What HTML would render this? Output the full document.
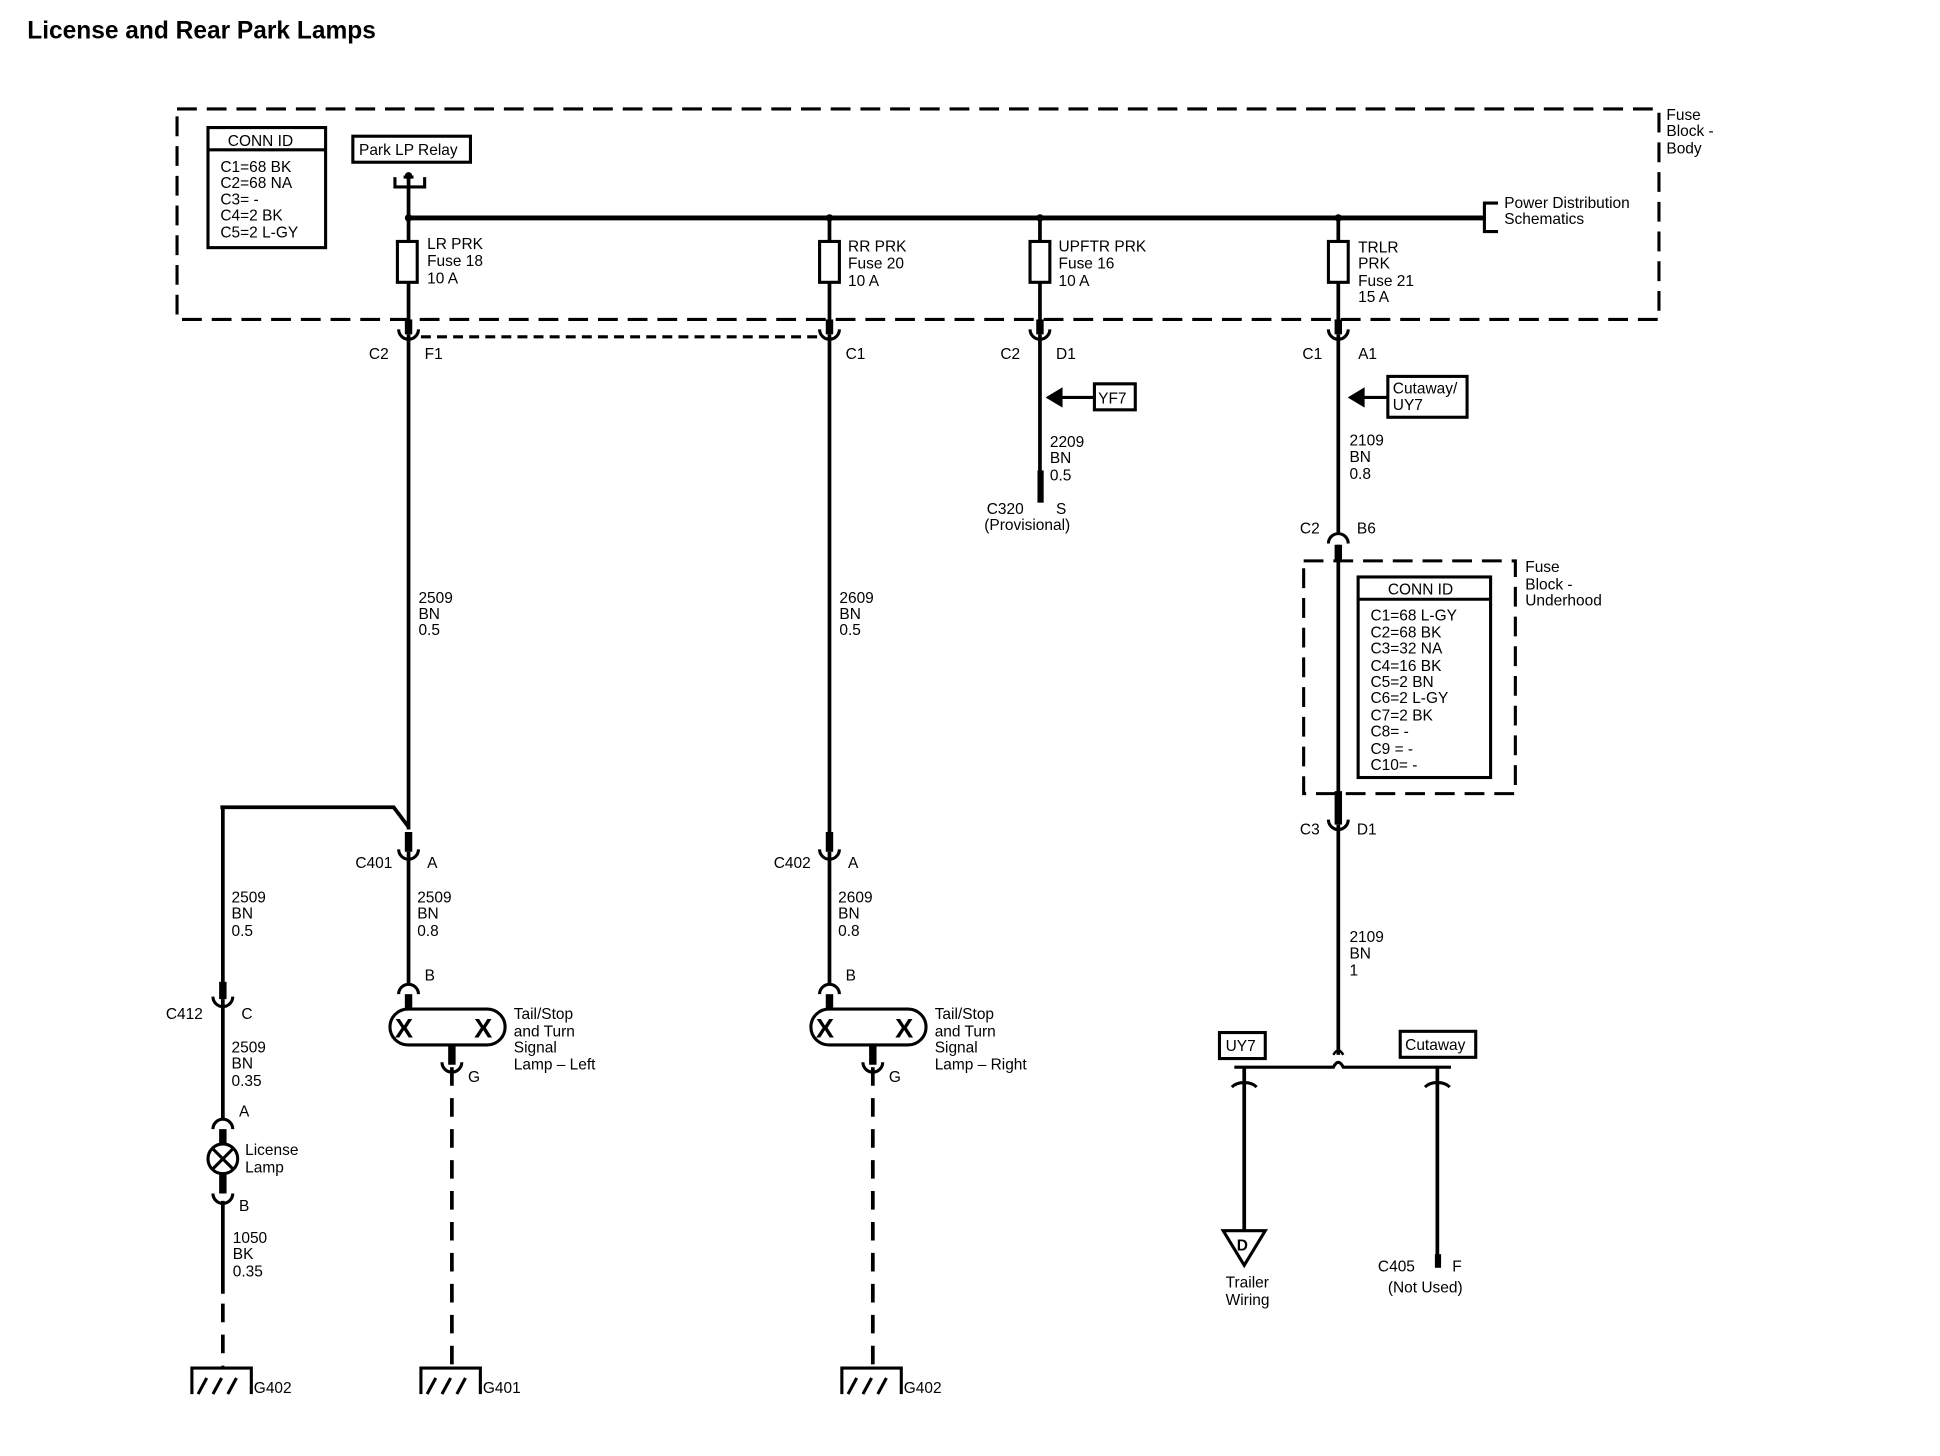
<!DOCTYPE html>
<html><head><meta charset="utf-8"><style>
html,body{margin:0;padding:0;background:#fff;}
svg{display:block}
text{font-family:"Liberation Sans",sans-serif;font-size:12.5px;fill:#000;}
.b{font-weight:bold}
</style></head><body>
<svg width="1940" height="1456" viewBox="0 0 1567 1176" xmlns="http://www.w3.org/2000/svg">
<text x="22" y="31" class="b" style="font-size:19.8px">License and Rear Park Lamps</text>

<g fill="none" stroke="#000" stroke-width="2.5">
<rect x="143" y="88" width="1197" height="170" stroke-dasharray="16,8"/>
<rect x="168" y="103" width="95" height="97"/>
<line x1="168" y1="121" x2="263" y2="121"/>
<rect x="285" y="110" width="95" height="21"/>
<path d="M319 143 V151 H343 V143"/>
<path d="M326 143 H334"/>
<line x1="330" y1="176" x2="1200" y2="176" stroke-width="4"/>
<line x1="330" y1="142" x2="330" y2="258" stroke-width="3"/>
<path d="M1210 164 H1199 V187 H1210"/>
<line x1="670" y1="176" x2="670" y2="258" stroke-width="3"/>
<line x1="840" y1="176" x2="840" y2="258" stroke-width="3"/>
<line x1="1081" y1="176" x2="1081" y2="258" stroke-width="3"/>
<rect x="321" y="195" width="16" height="33" fill="#fff"/>
<rect x="662" y="195" width="16" height="33" fill="#fff"/>
<rect x="832" y="195" width="16" height="33" fill="#fff"/>
<rect x="1073" y="195" width="16" height="33" fill="#fff"/>
<line x1="340" y1="272" x2="662" y2="272" stroke-dasharray="8,5"/>
</g>
<g fill="#000"><circle cx="330" cy="176" r="3"/><circle cx="670" cy="176" r="3"/><circle cx="840" cy="176" r="3"/><circle cx="1081" cy="176" r="3"/><circle cx="330" cy="142" r="3"/></g>

<g fill="none" stroke="#000" stroke-width="2.5">
<path d="M322 266 A8 8 0 0 0 338 266"/><path d="M662 266 A8 8 0 0 0 678 266"/>
<path d="M832 266 A8 8 0 0 0 848 266"/><path d="M1073 266 A8 8 0 0 0 1089 266"/>
<path d="M1073 439 A8 8 0 0 1 1089 439"/>
<path d="M1073 662 A8 8 0 0 0 1089 662"/>
<path d="M322 686 A8 8 0 0 0 338 686"/><path d="M662 686 A8 8 0 0 0 678 686"/>
<path d="M322 803 A8 8 0 0 1 338 803"/><path d="M662 803 A8 8 0 0 1 678 803"/>
<path d="M172 805 A8 8 0 0 0 188 805"/>
<path d="M172 912 A8 8 0 0 1 188 912"/>
<path d="M172 964 A8 8 0 0 0 188 964"/>
<path d="M357 858 A8 8 0 0 0 373 858"/><path d="M697 858 A8 8 0 0 0 713 858"/>
</g>
<g fill="#000">
<rect x="327" y="258" width="6" height="12"/><rect x="667" y="258" width="6" height="12"/>
<rect x="837" y="258" width="6" height="12"/><rect x="1078" y="258" width="6" height="12"/>
<rect x="1078" y="639" width="6" height="27"/>
<rect x="1078" y="440" width="6" height="14"/>
<rect x="327" y="672" width="6" height="16"/><rect x="667" y="672" width="6" height="16"/>
<rect x="327" y="803" width="6" height="12"/><rect x="667" y="803" width="6" height="12"/>
<rect x="177" y="793" width="6" height="14"/>
<rect x="177" y="912" width="6" height="12"/><rect x="177" y="948" width="6" height="16"/>
<rect x="362" y="845" width="6" height="15"/><rect x="702" y="845" width="6" height="15"/>
<rect x="838" y="380" width="5" height="26"/>
<rect x="1159" y="1013" width="5" height="11"/>
</g>

<g fill="none" stroke="#000" stroke-width="3">
<line x1="330" y1="270" x2="330" y2="670"/>
<path d="M178 652 H318 L330 668"/>
<line x1="180" y1="652" x2="180" y2="795"/>
<line x1="330" y1="688" x2="330" y2="795"/>
<line x1="180" y1="807" x2="180" y2="905"/>
<line x1="180" y1="970" x2="180" y2="1045"/>
<line x1="180" y1="1053" x2="180" y2="1103" stroke-dasharray="15,10"/>
<line x1="365" y1="862" x2="365" y2="1103" stroke-dasharray="15,10"/>
<line x1="705" y1="862" x2="705" y2="1103" stroke-dasharray="15,10"/>
<line x1="670" y1="270" x2="670" y2="674"/>
<line x1="670" y1="688" x2="670" y2="795"/>
<line x1="840" y1="270" x2="840" y2="385"/>
<line x1="1081" y1="270" x2="1081" y2="430"/>
<line x1="1081" y1="440" x2="1081" y2="640"/>
<line x1="1081" y1="666" x2="1081" y2="852"/>
<path d="M1077 852 Q1081 845 1085 852" stroke-width="2"/>
<path d="M997 862 H1077 Q1081 854 1085 862 H1172" stroke-width="2.5"/>
<path d="M1005 862 V1000"/>
<path d="M1161 862 V1015"/>
<path d="M995 878 A12 8 0 0 1 1015 878" stroke-width="2.5"/>
<path d="M1151 878 A12 8 0 0 1 1171 878" stroke-width="2.5"/>
</g>
<path d="M988 994 H1022 L1005 1022 Z" fill="#fff" stroke="#000" stroke-width="2.5"/>
<text x="999" y="1010" class="b">D</text>

<g stroke="#000" stroke-width="2.5" fill="#000">
<line x1="855" y1="321" x2="884" y2="321"/><path d="M847 321 L857 315 V327 Z"/>
<line x1="1100" y1="321" x2="1121" y2="321"/><path d="M1091 321 L1101 315 V327 Z"/>
</g>
<g fill="none" stroke="#000" stroke-width="2.5">
<rect x="884" y="310" width="33" height="21"/>
<rect x="1121" y="304" width="64" height="33"/>
<rect x="985" y="834" width="37" height="21"/>
<rect x="1131" y="833" width="61" height="21"/>
<rect x="1053" y="453" width="171" height="188" stroke-dasharray="16,8"/>
<rect x="1097" y="466" width="107" height="162"/>
<line x1="1097" y1="484" x2="1204" y2="484"/>
<rect x="315" y="815" width="93" height="29" rx="14.5"/>
<rect x="655" y="815" width="93" height="29" rx="14.5"/>
<circle cx="180" cy="936" r="12"/>
<path d="M172 928 L188 944 M188 928 L172 944"/>
<path d="M155 1126 V1105 H203 V1126 M180 1103 V1105 M160 1126 L167 1113 M172 1126 L179 1113 M184 1126 L191 1113"/>
<path d="M340 1126 V1105 H388 V1126 M345 1126 L352 1113 M357 1126 L364 1113 M369 1126 L376 1113"/>
<path d="M680 1126 V1105 H728 V1126 M685 1126 L692 1113 M697 1126 L704 1113 M709 1126 L716 1113"/>
</g>
<g class="b">
<text x="319" y="838" style="font-size:22px">X</text><text x="383" y="838" style="font-size:22px">X</text>
<text x="659" y="838" style="font-size:22px">X</text><text x="723" y="838" style="font-size:22px">X</text>
</g>

<g>
<text x="184" y="118">CONN ID</text>
<text x="178" y="139">C1=68 BK</text><text x="178" y="152">C2=68 NA</text><text x="178" y="165">C3= -</text><text x="178" y="178">C4=2 BK</text><text x="178" y="192">C5=2 L-GY</text>
<text x="290" y="125">Park LP Relay</text>
<text x="1346" y="97">Fuse</text><text x="1346" y="110">Block -</text><text x="1346" y="124">Body</text>
<text x="1215" y="168">Power Distribution</text><text x="1215" y="181">Schematics</text>
<text x="345" y="201">LR PRK</text><text x="345" y="215">Fuse 18</text><text x="345" y="229">10 A</text>
<text x="685" y="203">RR PRK</text><text x="685" y="217">Fuse 20</text><text x="685" y="231">10 A</text>
<text x="855" y="203">UPFTR PRK</text><text x="855" y="217">Fuse 16</text><text x="855" y="231">10 A</text>
<text x="1097" y="204">TRLR</text><text x="1097" y="217">PRK</text><text x="1097" y="231">Fuse 21</text><text x="1097" y="244">15 A</text>
<text x="298" y="290">C2</text><text x="343" y="290">F1</text>
<text x="683" y="290">C1</text>
<text x="808" y="290">C2</text><text x="853" y="290">D1</text>
<text x="1052" y="290">C1</text><text x="1097" y="290">A1</text>
<text x="887" y="326">YF7</text>
<text x="1125" y="318">Cutaway/</text><text x="1125" y="331">UY7</text>
<text x="848" y="361">2209</text><text x="848" y="374">BN</text><text x="848" y="388">0.5</text>
<text x="797" y="415">C320</text><text x="853" y="415">S</text><text x="795" y="428">(Provisional)</text>
<text x="1090" y="360">2109</text><text x="1090" y="373">BN</text><text x="1090" y="387">0.8</text>
<text x="1050" y="431">C2</text><text x="1096" y="431">B6</text>
<text x="1232" y="462">Fuse</text><text x="1232" y="476">Block -</text><text x="1232" y="489">Underhood</text>
<text x="1121" y="480">CONN ID</text>
<text x="1107" y="501">C1=68 L-GY</text><text x="1107" y="515">C2=68 BK</text><text x="1107" y="528">C3=32 NA</text><text x="1107" y="542">C4=16 BK</text><text x="1107" y="555">C5=2 BN</text><text x="1107" y="568">C6=2 L-GY</text><text x="1107" y="582">C7=2 BK</text><text x="1107" y="595">C8= -</text><text x="1107" y="609">C9 = -</text><text x="1107" y="622">C10= -</text>
<text x="1050" y="674">C3</text><text x="1096" y="674">D1</text>
<text x="1090" y="761">2109</text><text x="1090" y="774">BN</text><text x="1090" y="788">1</text>
<text x="990" y="849">UY7</text><text x="1135" y="848">Cutaway</text>
<text x="990" y="1040">Trailer</text><text x="990" y="1054">Wiring</text>
<text x="1113" y="1027">C405</text><text x="1173" y="1027">F</text><text x="1121" y="1044">(Not Used)</text>
<text x="338" y="487">2509</text><text x="338" y="500">BN</text><text x="338" y="513">0.5</text>
<text x="678" y="487">2609</text><text x="678" y="500">BN</text><text x="678" y="513">0.5</text>
<text x="287" y="701">C401</text><text x="345" y="701">A</text>
<text x="625" y="701">C402</text><text x="685" y="701">A</text>
<text x="187" y="729">2509</text><text x="187" y="742">BN</text><text x="187" y="756">0.5</text>
<text x="337" y="729">2509</text><text x="337" y="742">BN</text><text x="337" y="756">0.8</text>
<text x="677" y="729">2609</text><text x="677" y="742">BN</text><text x="677" y="756">0.8</text>
<text x="343" y="792">B</text><text x="683" y="792">B</text>
<text x="134" y="823">C412</text><text x="195" y="823">C</text>
<text x="415" y="823">Tail/Stop</text><text x="415" y="837">and Turn</text><text x="415" y="850">Signal</text><text x="415" y="864">Lamp – Left</text>
<text x="755" y="823">Tail/Stop</text><text x="755" y="837">and Turn</text><text x="755" y="850">Signal</text><text x="755" y="864">Lamp – Right</text>
<text x="378" y="874">G</text><text x="718" y="874">G</text>
<text x="187" y="850">2509</text><text x="187" y="863">BN</text><text x="187" y="877">0.35</text>
<text x="193" y="902">A</text>
<text x="198" y="933">License</text><text x="198" y="947">Lamp</text>
<text x="193" y="978">B</text>
<text x="188" y="1004">1050</text><text x="188" y="1017">BK</text><text x="188" y="1031">0.35</text>
<text x="205" y="1125">G402</text><text x="390" y="1125">G401</text><text x="730" y="1125">G402</text>
</g>
</svg>
</body></html>
